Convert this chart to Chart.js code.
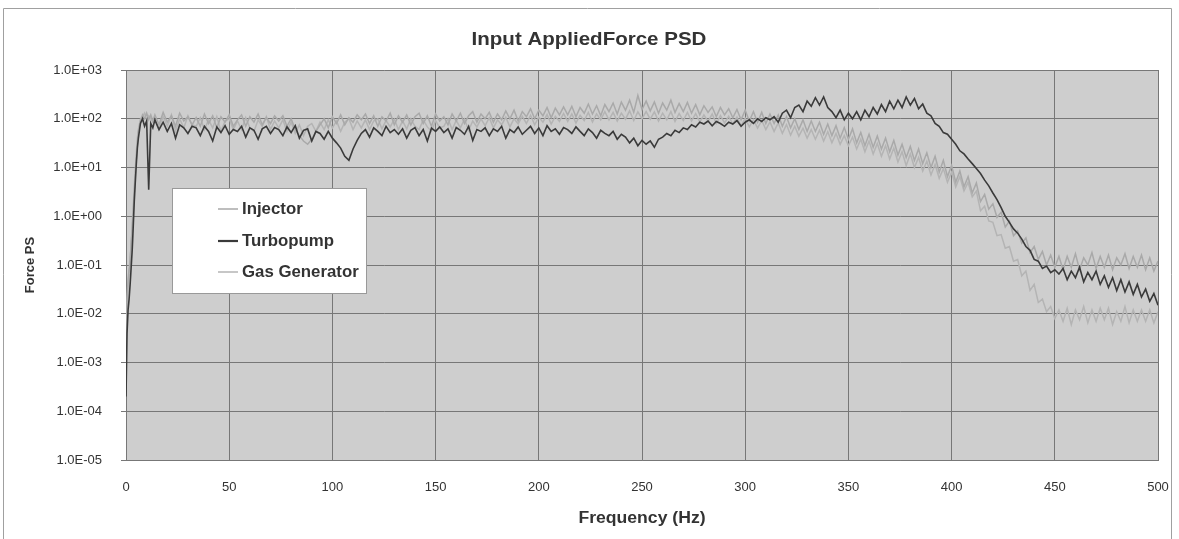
<!DOCTYPE html>
<html><head><meta charset="utf-8">
<script src="https://cdn.jsdelivr.net/npm/chart.js@4.4.0/dist/chart.umd.min.js"></script>
<style>html,body{margin:0;padding:0;background:#fff;overflow:hidden}canvas{display:block}</style>
</head><body>
<canvas id="c" width="1179" height="539"></canvas>
<script>
const chartTitle = 'Input AppliedForce PSD';
const xAxisTitle = 'Frequency (Hz)';
const yAxisTitle = 'Force PS';
const seriesNames = ['Injector', 'Turbopump', 'Gas Generator'];
const xTickValues = [0, 50, 100, 150, 200, 250, 300, 350, 400, 450, 500];
const yTickValues = [1e-5, 1e-4, 1e-3, 1e-2, 1e-1, 1e0, 1e1, 1e2, 1e3];
const yTickLabels = ['1.0E-05', '1.0E-04', '1.0E-03', '1.0E-02', '1.0E-01', '1.0E+00', '1.0E+01', '1.0E+02', '1.0E+03'];

const freqs = [0,0.5,1,1.5,2,2.5,3,3.5,4,4.5,5,5.5,6,7,8,9,10,11,12,13,
14,16,18,20,22,24,26,28,30,32,
34,36,38,40,42,44,46,48,50,52,
54,56,58,60,62,64,66,68,70,72,
74,76,78,80,82,84,86,88,90,92,
94,96,98,100,102,104,106,108,110,112,
114,116,118,120,122,124,126,128,130,132,
134,136,138,140,142,144,146,148,150,152,
154,156,158,160,162,164,166,168,170,172,
174,176,178,180,182,184,186,188,190,192,
194,196,198,200,202,204,206,208,210,212,
214,216,218,220,222,224,226,228,230,232,
234,236,238,240,242,244,246,248,250,252,
254,256,258,260,262,264,266,268,270,272,
274,276,278,280,282,284,286,288,290,292,
294,296,298,300,302,304,306,308,310,312,
314,316,318,320,322,324,326,328,330,332,
334,336,338,340,342,344,346,348,350,352,
354,356,358,360,362,364,366,368,370,372,
374,376,378,380,382,384,386,388,390,392,
394,396,398,400,402,404,406,408,410,412,
414,416,418,420,422,424,426,428,430,432,
434,436,438,440,442,444,446,448,450,452,
454,456,458,460,462,464,466,468,470,472,
474,476,478,480,482,484,486,488,490,492,
494,496,498,500];

const injector = [0.002,0.02,0.05,0.08,0.1,0.3,0.5,1.2,3,7,15,30,55,90,120,100,130,95,120,90,
120,75,135,85,115,70,130,90,110,75,
105,70,125,80,115,65,110,85,120,70,
95,120,70,110,85,125,75,105,80,115,
90,115,70,100,60,45,35,30,38,55,
75,100,65,110,80,120,75,105,85,120,
95,125,80,115,70,110,90,130,75,115,
85,120,75,110,130,80,115,70,125,90,
110,75,125,90,130,80,115,140,85,125,
100,135,85,125,95,145,100,150,90,140,
110,160,100,150,115,170,105,165,120,175,
120,180,110,170,130,200,125,185,115,195,
140,210,125,220,150,240,135,300,155,230,
145,220,130,210,150,240,135,205,140,215,
130,195,120,185,135,175,110,170,120,160,
105,155,95,150,90,140,85,135,80,125,
80,120,70,110,65,100,60,95,55,90,
55,85,48,78,45,72,40,66,38,62,
32,52,28,48,26,44,24,40,21,36,
18,30,16,27,14,24,12,20,10,17,
8,14,6.5,11,5,8.5,4,6.5,3,4.8,
2.0,2.8,1.4,1.8,0.95,1.2,0.6,0.8,0.4,0.5,
0.28,0.36,0.18,0.24,0.13,0.19,0.1,0.16,0.09,0.15,
0.08,0.15,0.09,0.17,0.08,0.14,0.1,0.18,0.085,0.15,
0.09,0.16,0.08,0.14,0.1,0.17,0.085,0.15,0.09,0.16,
0.08,0.14,0.075,0.12];

const turbopump = [0.0002,0.004,0.012,0.02,0.04,0.09,0.2,0.6,2,5,12,25,40,80,100,70,90,3.5,80,65,
95,60,85,55,80,40,75,65,50,70,
65,45,70,55,35,68,52,72,48,60,
55,70,42,65,58,38,62,70,50,66,
60,45,68,52,72,40,58,62,35,55,
50,38,55,40,32,25,17,14,24,36,
50,60,42,65,55,45,70,52,60,48,
62,40,58,66,45,60,35,64,55,68,
52,62,40,66,58,48,70,36,60,55,
65,45,62,55,70,40,60,52,68,48,
58,70,50,65,45,72,55,62,48,66,
60,50,68,55,45,62,52,40,58,50,
45,55,38,48,42,32,40,28,36,30,
35,26,38,42,50,45,58,52,65,60,
75,68,85,78,90,72,88,80,70,85,
78,92,70,85,95,80,100,88,105,95,
110,85,130,150,105,170,190,140,230,180,
270,190,280,170,140,105,150,95,130,100,
140,95,150,110,170,125,195,140,230,160,
240,170,280,190,260,160,200,130,115,80,
70,52,48,38,30,22,19,15,12,9.5,
7.5,5.5,4.2,3,2.2,1.5,1.0,0.75,0.55,0.45,
0.34,0.24,0.2,0.13,0.12,0.085,0.095,0.07,0.08,0.065,
0.085,0.05,0.075,0.055,0.09,0.045,0.07,0.05,0.075,0.04,
0.06,0.035,0.055,0.03,0.05,0.028,0.045,0.025,0.04,0.022,
0.032,0.018,0.026,0.015];

const gasGenerator = [0.005,0.015,0.04,0.07,0.15,0.25,0.7,1.5,4,9,20,40,60,100,110,130,95,115,100,85,
95,60,110,70,120,55,100,65,115,75,
70,105,60,95,65,110,55,90,100,60,
90,60,105,65,55,95,70,110,60,90,
65,95,55,85,50,75,45,70,80,55,
85,60,95,65,90,55,85,100,60,90,
65,95,60,90,100,62,92,68,98,60,
90,62,100,70,60,95,68,55,92,65,
70,100,60,92,65,98,58,90,68,100,
72,105,65,95,75,108,68,100,78,112,
80,118,75,108,85,122,78,112,88,128,
88,125,82,118,92,135,86,126,95,140,
95,135,90,130,98,145,92,138,100,140,
98,138,90,130,95,140,88,128,92,135,
90,128,85,120,88,125,80,116,82,112,
78,108,72,102,68,96,64,92,60,86,
55,82,50,76,46,70,44,64,40,60,
38,58,35,54,32,50,30,45,28,42,
24,38,21,35,19,31,17,28,15,25,
13,21,11,19,10,16,8.5,13.5,7,11.5,
6,9.5,5,8,4,6.5,3.3,5,2.5,3.3,
1.3,1.6,0.8,0.75,0.4,0.42,0.22,0.24,0.12,0.13,
0.06,0.075,0.03,0.04,0.017,0.02,0.011,0.014,0.008,0.012,
0.007,0.013,0.006,0.012,0.0075,0.014,0.0065,0.012,0.007,0.013,
0.0075,0.013,0.006,0.011,0.007,0.014,0.0065,0.012,0.007,0.012,
0.007,0.012,0.0065,0.011];

const seriesValues = [injector, turbopump, gasGenerator];
const seriesColors = ['#a9a9a9', '#3a3a3a', '#b4b4b4'];
const seriesWidths = [1.5, 1.6, 1.5];
const seriesOrder = [1, 0, 2];

const FONT = '"Liberation Sans", Arial, sans-serif';

function stretchedText(ctx, text, x, y, sx) {
  ctx.save();
  ctx.translate(x, y);
  ctx.scale(sx, 1);
  ctx.fillText(text, 0, 0);
  ctx.restore();
}

const decor = {
  id: 'decor',
  beforeDraw(chart) {
    const ctx = chart.ctx, a = chart.chartArea;
    ctx.save();
    ctx.fillStyle = '#ffffff';
    ctx.fillRect(0, 0, chart.width, chart.height);
    ctx.strokeStyle = '#a0a0a0';
    ctx.lineWidth = 1;
    ctx.beginPath();
    ctx.moveTo(3.5, 545); ctx.lineTo(3.5, 8.5); ctx.lineTo(1171.5, 8.5); ctx.lineTo(1171.5, 545);
    ctx.stroke();
    ctx.fillStyle = '#cecece';
    ctx.fillRect(a.left, a.top, a.right - a.left, a.bottom - a.top);
    ctx.restore();
  },
  afterDraw(chart) {
    const ctx = chart.ctx, a = chart.chartArea;
    ctx.save();
    ctx.fillStyle = '#333333';
    ctx.textAlign = 'center';
    ctx.textBaseline = 'middle';
    ctx.font = 'bold 19px ' + FONT;
    stretchedText(ctx, chartTitle, 589, 40, 1.08);
    ctx.font = 'bold 16px ' + FONT;
    stretchedText(ctx, xAxisTitle, (a.left + a.right) / 2, 519, 1.1);
    // legend box
    const bx = 172.5, by = 188.5, bw = 194, bh = 105;
    ctx.fillStyle = '#ffffff';
    ctx.fillRect(bx, by, bw, bh);
    ctx.strokeStyle = '#999999';
    ctx.lineWidth = 1;
    ctx.strokeRect(bx, by, bw, bh);
    ctx.textAlign = 'left';
    ctx.font = 'bold 16px ' + FONT;
    const ys = [209, 241, 272];
    chart.data.datasets.forEach((ds, i) => {
      ctx.strokeStyle = ds.borderColor;
      ctx.lineWidth = i === 1 ? 2.2 : 1.5;
      ctx.beginPath();
      ctx.moveTo(218, ys[i]); ctx.lineTo(238, ys[i]);
      ctx.stroke();
      ctx.fillStyle = '#333333';
      stretchedText(ctx, ds.label, 242, ys[i] + 1, 1.05);
    });
    ctx.restore();
  }
};

const datasets = seriesNames.map((name, i) => ({
  label: name,
  data: freqs.map((f, j) => ({ x: f, y: seriesValues[i][j] })),
  borderColor: seriesColors[i],
  backgroundColor: seriesColors[i],
  borderWidth: seriesWidths[i],
  pointRadius: 0,
  tension: 0,
  order: seriesOrder[i]
}));

new Chart(document.getElementById('c'), {
  type: 'line',
  data: { datasets },
  plugins: [decor],
  options: {
    responsive: false,
    animation: false,
    devicePixelRatio: 1,
    layout: { padding: { top: 70, right: 21, left: 0, bottom: 0 } },
    plugins: { legend: { display: false }, title: { display: false }, tooltip: { enabled: false } },
    scales: {
      x: {
        type: 'linear', min: 0, max: 500,
        afterBuildTicks: s => { s.ticks = xTickValues.map(v => ({ value: v })); },
        afterFit: s => { s.height = 79; s.paddingRight = 0; s.paddingLeft = 0; },
        grid: { color: '#777777', lineWidth: 1, drawTicks: false },
        border: { color: '#777777' },
        ticks: { color: '#333333', font: { family: FONT, size: 13 }, padding: 20, maxRotation: 0, autoSkip: false },
        title: { display: false, text: xAxisTitle }
      },
      y: {
        type: 'logarithmic', min: 1e-5, max: 1e3,
        afterBuildTicks: s => { s.ticks = yTickValues.map(v => ({ value: v })); },
        afterFit: s => { s.width = 126; },
        grid: { color: '#777777', lineWidth: 1, drawTicks: true, tickLength: 5 },
        border: { color: '#777777' },
        ticks: {
          color: '#333333', font: { family: FONT, size: 13 }, padding: 19, autoSkip: false,
          callback: (v) => { const k = yTickValues.findIndex(t => Math.abs(Math.log10(t) - Math.log10(v)) < 1e-6); return k >= 0 ? yTickLabels[k] : ''; }
        },
        title: { display: true, text: yAxisTitle, color: '#333333', font: { family: FONT, size: 13, weight: 'bold' }, padding: { top: 23, bottom: 0 } }
      }
    }
  }
});
</script>
</body></html>
